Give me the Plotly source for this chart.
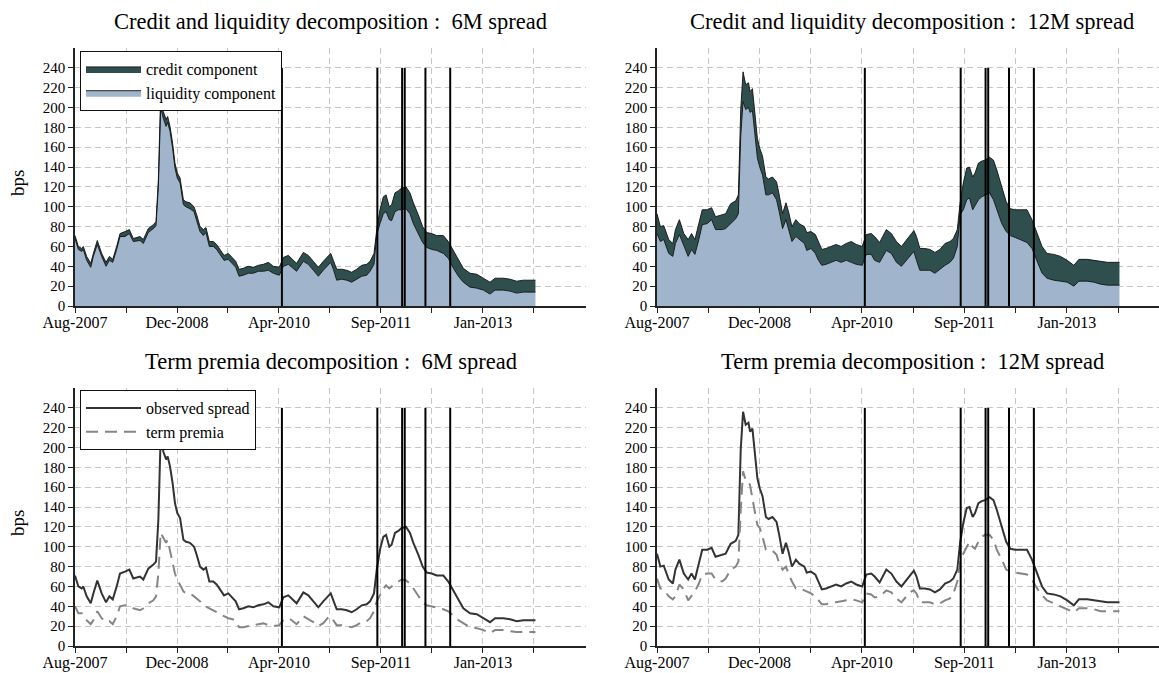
import plotly.graph_objects as go

# ---------------- data (week index since Aug-2007) ----------------
WEEKS = [0, 2.3, 4.6, 5.7, 8, 10.8, 12.6, 15.3, 18.3, 21.3,
         23.6, 25.9, 28.6, 30.9, 34.3, 37.3, 40, 44.6, 46.9, 50.3,
         53.8, 55.6, 57.2, 58.8, 60.6, 62.5, 63.6, 65.2, 67, 68.6,
         70.2, 72.1, 74.4, 76.2, 78.9, 81.7, 83.5, 85.8, 88.1, 89.9,
         92.2, 94.9, 97.2, 100.7, 102.3, 105.2, 108.2, 110.3, 112.6, 115.5,
         119, 122.4, 125.8, 129.3, 132.7, 136.1, 140.2, 143, 146.4, 148.7,
         152.1, 156.7, 160.1, 163.6, 167, 170.4, 173.9, 175.5, 177.3, 179.6,
         183, 186.5, 189.9, 193.3, 196.8, 200.2, 202.5, 205.2, 207.1, 209.3,
         211.6, 213.5, 215.7, 217.3, 219.6, 221.9, 224.2, 227.2, 229.9, 232.2,
         235.6, 238.6, 241.4, 244.8, 248.2, 252.8, 256.2, 259.7, 263.1, 266.5,
         271.1, 275.7, 280.3, 284.8, 288.3, 294, 298.6, 303.1, 307.7, 312.3,
         316]

OBS_6M = [71, 60, 58, 60, 50, 43, 53, 66, 53, 44,
          50, 47, 60, 73, 75, 77, 68, 70, 67, 78,
          82, 85, 127, 212, 196, 188, 191, 181, 164, 144,
          134, 129, 107, 105, 104, 100, 92, 80, 77, 79,
          65, 65, 62, 55, 51, 53, 48, 45, 37, 38,
          40, 39, 41, 42, 44, 40, 39, 49, 51, 48,
          43, 54, 51, 45, 39, 45, 51, 53, 46, 37,
          37, 36, 34, 37, 41, 42, 45, 53, 77, 97,
          110, 112, 100, 102, 114, 116, 119, 120, 114, 104,
          92, 80, 74, 73, 71, 71, 65, 56, 46, 38,
          33, 32, 28, 24, 28, 28, 27, 25, 26, 26,
          26]

LIQ_6M = [68, 57, 55, 57, 46, 39, 50, 62, 50, 40,
          46, 44, 57, 70, 70, 73, 65, 66, 63, 74,
          78, 81, 120, 200, 189, 181, 185, 176, 159, 139,
          129, 124, 102, 100, 98, 95, 86, 75, 71, 74,
          60, 60, 57, 49, 46, 47, 42, 39, 30, 31,
          33, 33, 35, 35, 36, 33, 31, 40, 42, 39,
          35, 45, 42, 36, 30, 36, 42, 44, 37, 26,
          27, 26, 24, 27, 30, 31, 35, 42, 72, 83,
          93, 95, 87, 86, 95, 97, 97, 98, 93, 83,
          73, 64, 59, 57, 56, 53, 48, 38, 30, 24,
          19, 18, 16, 12, 16, 16, 15, 13, 14, 14,
          14]

TP_6M = [40, 33, 33, 30, 26, 22, 26, 35, 28, 24,
         25, 22, 30, 40, 41, 41, 38, 36, 38, 43,
         46, 50, 73, 114, 109, 104, 107, 97, 83, 73,
         67, 62, 55, 53, 53, 50, 48, 45, 41, 40,
         38, 36, 34, 31, 30, 28, 27, 25, 19, 19,
         20, 21, 22, 23, 21, 20, 21, 26, 28, 26,
         22, 30, 27, 24, 20, 23, 29, 30, 26, 21,
         21, 20, 19, 21, 24, 25, 28, 35, 45, 51,
         58, 61, 58, 60, 63, 65, 67, 66, 63, 58,
         50, 44, 41, 40, 39, 37, 35, 30, 26, 23,
         19, 18, 16, 13, 16, 16, 15, 14, 14, 14,
         14]

OBS_12M = [93, 80, 81, 77, 67, 63, 77, 87, 73, 67,
           73, 67, 82, 97, 97, 99, 90, 92, 93, 103,
           106, 112, 198, 236, 223, 225, 216, 219, 194, 169,
           159, 151, 130, 128, 130, 125, 112, 93, 104, 95,
           80, 87, 83, 80, 74, 75, 72, 65, 57, 58,
           60, 62, 60, 63, 65, 62, 60, 72, 73, 70,
           64, 77, 73, 65, 60, 67, 73, 76, 70, 58,
           58, 57, 54, 57, 63, 65, 68, 77, 104, 124,
           139, 140, 130, 134, 144, 146, 147, 150, 147, 137,
           120, 105, 98, 97, 97, 97, 87, 73, 60, 53,
           52, 50, 46, 41, 47, 47, 46, 45, 44, 44,
           44]

LIQ_12M = [73, 65, 67, 63, 53, 50, 63, 72, 60, 50,
           57, 52, 67, 82, 83, 87, 77, 77, 78, 83,
           88, 93, 171, 206, 198, 200, 195, 197, 171, 149,
           140, 132, 112, 112, 114, 107, 95, 78, 87, 78,
           65, 70, 67, 63, 56, 58, 53, 46, 41, 42,
           44, 46, 44, 46, 44, 42, 41, 52, 52, 46,
           44, 56, 53, 44, 40, 46, 53, 55, 46, 36,
           36, 36, 33, 37, 41, 44, 48, 60, 92, 97,
           107, 109, 97, 101, 107, 110, 112, 114, 107, 97,
           83, 75, 71, 69, 67, 64, 58, 45, 33, 28,
           26, 25, 24, 20, 25, 25, 24, 22, 21, 21,
           21]

TP_12M = [68, 58, 57, 55, 50, 47, 50, 62, 57, 46,
          50, 55, 63, 72, 73, 73, 67, 65, 68, 77,
          80, 85, 137, 176, 167, 166, 162, 147, 134, 122,
          119, 110, 97, 96, 96, 92, 83, 77, 80, 73,
          65, 58, 58, 56, 55, 53, 50, 46, 42, 42,
          44, 44, 45, 46, 47, 46, 44, 53, 52, 49,
          50, 56, 54, 48, 44, 50, 55, 56, 53, 44,
          44, 44, 42, 43, 46, 48, 53, 65, 87, 93,
          100, 105, 100, 98, 105, 110, 112, 112, 107, 97,
          87, 77, 75, 74, 73, 72, 67, 58, 51, 46,
          43, 40, 37, 34, 38, 38, 37, 35, 35, 35,
          35]

EVENT_WEEKS = [142, 207.5, 224.5, 226.3, 240.5, 257.5]
EVENT_TOP = 240

TICK_WEEKS = [0, 35, 70, 105, 140, 175, 210, 245, 280, 315]
TICK_TEXT = ["Aug-2007", "", "Dec-2008", "", "Apr-2010", "", "Sep-2011", "", "Jan-2013", ""]
Y_TICKS = list(range(0, 241, 20))

TITLES = ["Credit and liquidity decomposition :  6M spread",
          "Credit and liquidity decomposition :  12M spread",
          "Term premia decomposition :  6M spread",
          "Term premia decomposition :  12M spread"]

# ---------------- styling ----------------
W, H = 1159, 673
FONT = "Liberation Serif"
CREDIT_C = "#2F4F4F"
LIQ_C = "#A0B4CB"
OBS_C = "#333333"
TP_C = "#858585"
GRID_C = "#c6c6c6"
AX_C = "#222222"

def fx(px):
    return px / W

def fy(py):
    return (H - py) / H

fig = go.Figure()

# top-left
fig.add_trace(go.Scatter(x=WEEKS, y=LIQ_6M, mode="lines", fill="tozeroy",
                         fillcolor=LIQ_C, line=dict(color="#111111", width=0.9),
                         name="liquidity component", legend="legend",
                         xaxis="x", yaxis="y"))
fig.add_trace(go.Scatter(x=WEEKS, y=OBS_6M, mode="lines", fill="tonexty",
                         fillcolor=CREDIT_C, line=dict(color="#111111", width=0.9),
                         name="credit component", legend="legend",
                         xaxis="x", yaxis="y"))
# top-right
fig.add_trace(go.Scatter(x=WEEKS, y=LIQ_12M, mode="lines", fill="tozeroy",
                         fillcolor=LIQ_C, line=dict(color="#111111", width=0.9),
                         showlegend=False, xaxis="x2", yaxis="y2"))
fig.add_trace(go.Scatter(x=WEEKS, y=OBS_12M, mode="lines", fill="tonexty",
                         fillcolor=CREDIT_C, line=dict(color="#111111", width=0.9),
                         showlegend=False, xaxis="x2", yaxis="y2"))
# bottom-left
fig.add_trace(go.Scatter(x=WEEKS, y=OBS_6M, mode="lines",
                         line=dict(color=OBS_C, width=2),
                         name="observed spread", legend="legend2",
                         xaxis="x3", yaxis="y3"))
fig.add_trace(go.Scatter(x=WEEKS, y=TP_6M, mode="lines",
                         line=dict(color=TP_C, width=2, dash="12px,7px"),
                         name="term premia", legend="legend2",
                         xaxis="x3", yaxis="y3"))
# bottom-right
fig.add_trace(go.Scatter(x=WEEKS, y=OBS_12M, mode="lines",
                         line=dict(color=OBS_C, width=2),
                         showlegend=False, xaxis="x4", yaxis="y4"))
fig.add_trace(go.Scatter(x=WEEKS, y=TP_12M, mode="lines",
                         line=dict(color=TP_C, width=2, dash="12px,7px"),
                         showlegend=False, xaxis="x4", yaxis="y4"))

# event lines
shapes = []
for ax in ["", "2", "3", "4"]:
    for wk in EVENT_WEEKS:
        shapes.append(dict(type="line", xref="x" + ax, yref="y" + ax,
                           x0=wk, x1=wk, y0=0, y1=EVENT_TOP,
                           line=dict(color="black", width=2), layer="above"))

common_x = dict(tickmode="array", tickvals=TICK_WEEKS, ticktext=TICK_TEXT,
                showgrid=True, gridcolor=GRID_C, gridwidth=1, griddash="6px,4px",
                showline=True, linecolor=AX_C, linewidth=1.5, mirror=False,
                ticks="outside", ticklen=5, tickwidth=1.3, tickcolor=AX_C,
                zeroline=False, automargin=False, ticklabelstandoff=-4,
                tickfont=dict(family=FONT, size=16, color="black"))
common_y = dict(range=[0, 260], tickmode="array", tickvals=Y_TICKS,
                showgrid=True, gridcolor=GRID_C, gridwidth=1, griddash="6px,4px",
                showline=True, linecolor=AX_C, linewidth=1.5, mirror=False,
                ticks="outside", ticklen=5, tickwidth=1.3, tickcolor=AX_C,
                zeroline=False, automargin=False,
                tickfont=dict(family=FONT, size=15, color="black"))

XL = [fx(75), fx(586)]
XR = [fx(657), 1.0]
YT = [fy(306), fy(48)]
YB = [fy(646), fy(388)]

layout = dict(
    width=W, height=H,
    margin=dict(l=0, r=0, t=0, b=0, autoexpand=False),
    paper_bgcolor="white", plot_bgcolor="white",
    font=dict(family=FONT, color="black"),
    xaxis=dict(common_x, domain=XL, range=[0, 350.7], anchor="y"),
    yaxis=dict(common_y, domain=YT, anchor="x"),
    xaxis2=dict(common_x, domain=XR, range=[0, 343], anchor="y2"),
    yaxis2=dict(common_y, domain=YT, anchor="x2"),
    xaxis3=dict(common_x, domain=XL, range=[0, 350.7], anchor="y3"),
    yaxis3=dict(common_y, domain=YB, anchor="x3"),
    xaxis4=dict(common_x, domain=XR, range=[0, 343], anchor="y4"),
    yaxis4=dict(common_y, domain=YB, anchor="x4"),
    shapes=shapes,
    legend=dict(x=fx(80), y=fy(51), xanchor="left", yanchor="top",
                bgcolor="white", bordercolor="#111111", borderwidth=1,
                font=dict(family=FONT, size=16, color="black"),
                itemwidth=55, tracegroupgap=0, traceorder="reversed"),
    legend2=dict(x=fx(80), y=fy(390), xanchor="left", yanchor="top",
                 bgcolor="white", bordercolor="#111111", borderwidth=1,
                 font=dict(family=FONT, size=16, color="black"),
                 itemwidth=55, tracegroupgap=0, traceorder="normal"),
    showlegend=True,
)
fig.update_layout(**layout)

title_pos = [(330.5, 21), (912, 21), (330.5, 361), (912, 361)]
for txt, (px, py) in zip(TITLES, title_pos):
    fig.add_annotation(text=txt, x=fx(px), y=fy(py), xref="paper", yref="paper",
                       showarrow=False, xanchor="center", yanchor="middle",
                       font=dict(family=FONT, size=22.5, color="black"))
for py in [183, 523]:
    fig.add_annotation(text="bps", x=fx(17), y=fy(py), xref="paper", yref="paper",
                       showarrow=False, textangle=-90, xanchor="center", yanchor="middle",
                       font=dict(family=FONT, size=19, color="black"))

fig.write_html("out.html")
